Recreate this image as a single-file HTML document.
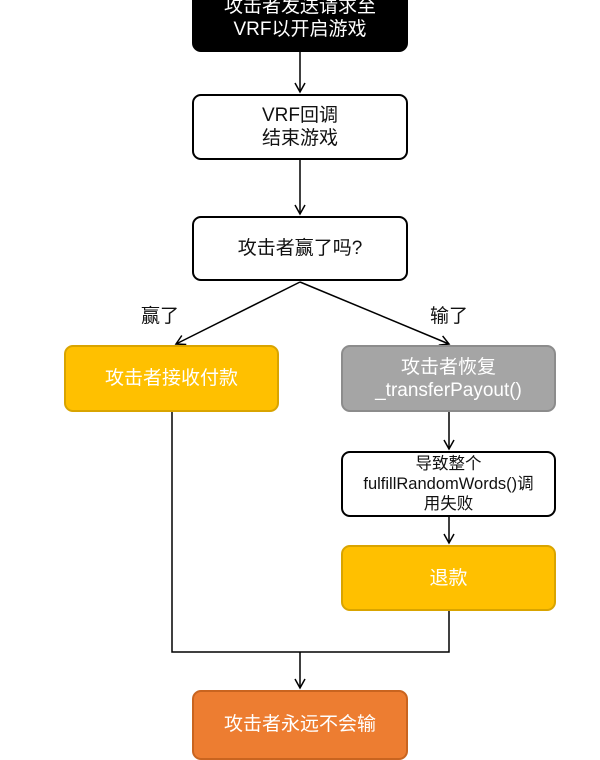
<!DOCTYPE html>
<html><head><meta charset="utf-8"><style>
body{margin:0;width:600px;height:750px;overflow:hidden;background:#fff;font-family:"Liberation Sans","Noto Sans CJK SC",sans-serif;}
.b{position:absolute;box-sizing:border-box;border:2px solid #000;border-radius:9px;display:flex;align-items:center;justify-content:center;text-align:center;font-size:19px;line-height:23px;color:#111;background:#fff}
.l{position:absolute;font-size:19px;color:#111}
</style></head><body>
<svg width="600" height="750" style="position:absolute;left:0;top:0">
<defs><marker id="a" markerWidth="12" markerHeight="12" refX="10" refY="6" orient="auto" markerUnits="userSpaceOnUse"><path d="M1,1 L10,6 L1,11" fill="none" stroke="#000" stroke-width="1.5"/></marker></defs>
<g stroke="#000" stroke-width="1.5" fill="none">
<line x1="300" y1="52" x2="300" y2="92" marker-end="url(#a)"/>
<line x1="300" y1="160" x2="300" y2="214" marker-end="url(#a)"/>
<line x1="300" y1="282" x2="176" y2="344" marker-end="url(#a)"/>
<line x1="300" y1="282" x2="449" y2="344" marker-end="url(#a)"/>
<line x1="449" y1="412" x2="449" y2="449" marker-end="url(#a)"/>
<line x1="449" y1="517" x2="449" y2="543" marker-end="url(#a)"/>
<polyline points="172,412 172,652 449,652 449,611"/>
<line x1="300" y1="652" x2="300" y2="688" marker-end="url(#a)"/>
</g></svg>
<div class="b" style="left:192px;top:-20px;width:216px;height:72px;background:#000;color:#fff;align-items:flex-end;padding-bottom:9px">攻击者发送请求至<br>VRF以开启游戏</div>
<div class="b" style="left:192px;top:94px;width:216px;height:66px">VRF回调<br>结束游戏</div>
<div class="b" style="left:192px;top:216px;width:216px;height:65px">攻击者赢了吗?</div>
<div class="l" style="left:141px;top:301px">赢了</div>
<div class="l" style="left:430px;top:301px">输了</div>
<div class="b" style="left:64px;top:345px;width:215px;height:67px;background:#FFC000;border-color:#d9a400;color:#fff">攻击者接收付款</div>
<div class="b" style="left:341px;top:345px;width:215px;height:67px;background:#A5A5A5;border-color:#8c8c8c;color:#fff">攻击者恢复<br>_transferPayout()</div>
<div class="b" style="left:341px;top:451px;width:215px;height:66px;font-size:16.5px;line-height:20px">导致整个<br>fulfillRandomWords()调<br>用失败</div>
<div class="b" style="left:341px;top:545px;width:215px;height:66px;background:#FFC000;border-color:#d9a400;color:#fff">退款</div>
<div class="b" style="left:192px;top:690px;width:216px;height:70px;background:#ED7D31;border-color:#c9641f;color:#fff;align-items:flex-start;padding-top:21px">攻击者永远不会输</div>
</body></html>
